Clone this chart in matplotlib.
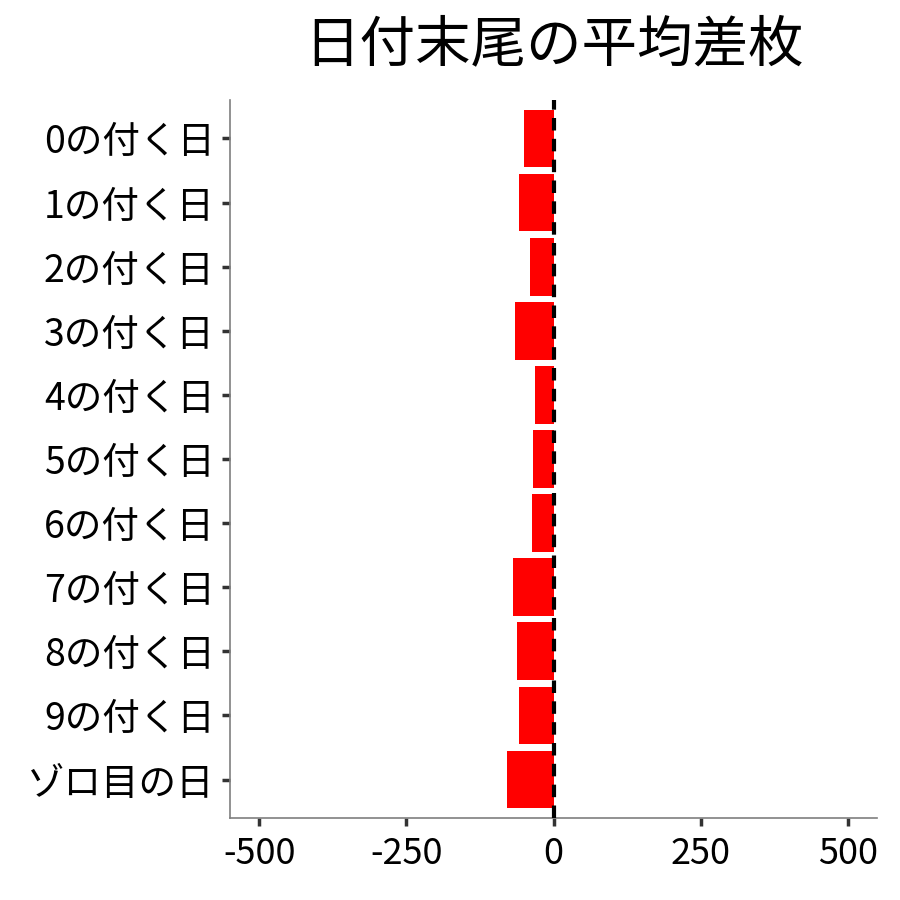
import numpy as np
import matplotlib.pyplot as plt

plt.rcParams['font.family'] = ['Noto Sans CJK JP', 'DejaVu Sans']

# 日付末尾ごとの平均差枚
labels = ["0の付く日", "1の付く日", "2の付く日", "3の付く日", "4の付く日",
          "5の付く日", "6の付く日", "7の付く日", "8の付く日", "9の付く日", "ゾロ目の日"]
values = [-50, -58, -40, -65, -31, -35, -36, -69, -62, -58, -79]
xticks = [-500, -250, 0, 250, 500]

fig = plt.figure(figsize=(9, 9), dpi=100)
ax = fig.add_axes([0.2556, 0.0911, 0.7189, 0.7978])

y = np.arange(len(labels))
colors = ['red' if v < 0 else 'blue' for v in values]
ax.barh(y, values, height=0.9, color=colors, zorder=2)
ax.axvline(0, color='black', linestyle=(0, (3, 2)), linewidth=3, zorder=3)

ax.set_yticks(y)
ax.set_yticklabels(labels, fontsize=27)
ax.set_ylim(len(labels) - 0.4, -0.6)
ax.set_xticks(xticks)
ax.set_xticklabels([str(t) for t in xticks], fontsize=26)
ax.set_xlim(-550, 550)

for s in ['top', 'right']:
    ax.spines[s].set_visible(False)
for s in ['left', 'bottom']:
    ax.spines[s].set_color('#7f7f7f')
    ax.spines[s].set_linewidth(1.2)
ax.tick_params(axis='both', length=6, width=2.5, color='#333333', pad=5, labelcolor='black')
ax.tick_params(axis='x', pad=7)

ax.set_title("日付末尾の平均差枚", fontsize=40, pad=28)

fig.savefig('out.png', dpi=100)
